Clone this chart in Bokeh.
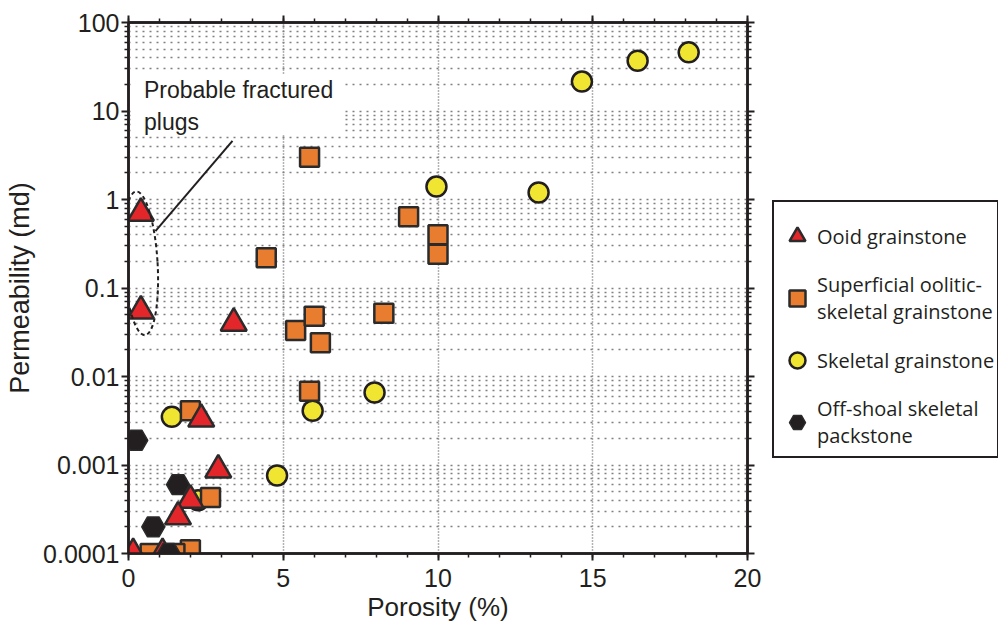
from bokeh.plotting import figure
from bokeh.layouts import row
from bokeh.models import (LogAxis, LinearAxis, FixedTicker, CustomJSTickFormatter,
                          Legend, LegendItem, Label, BoxAnnotation, Range1d)
from bokeh.embed import file_html
from bokeh.resources import INLINE

# ---------------- data (porosity %, permeability md) ----------------
ooid_x = [0.4, 0.4, 3.4, 2.35, 2.9, 2.0, 1.6, 0.15, 1.1]
ooid_y = [0.7, 0.055, 0.04, 0.0033, 0.00088, 0.0004, 0.00026, 0.0001, 0.0001]

sup_x = [5.85, 4.45, 9.05, 10.0, 10.0, 5.4, 6.0, 6.2, 8.25, 5.85, 2.0, 2.65, 2.0, 0.7, 1.5]
sup_y = [3.0, 0.22, 0.64, 0.4, 0.24, 0.033, 0.048, 0.024, 0.052, 0.0068, 0.0041,
         0.00043, 0.00011, 0.0001, 0.0001]

skel_x = [18.1, 16.45, 14.65, 9.95, 13.25, 7.95, 5.95, 4.8, 1.4, 2.25]
skel_y = [46, 37, 21.5, 1.4, 1.2, 0.0066, 0.0041, 0.00076, 0.0035, 0.0004]

off_x = [0.25, 1.6, 0.8, 1.3]
off_y = [0.0019, 0.0006, 0.0002, 0.0001]

labels = ["Ooid grainstone", "Superficial oolitic-\nskeletal grainstone",
          "Skeletal grainstone", "Off-shoal skeletal\npackstone"]

x_major = [0, 5, 10, 15, 20]
x_minor = list(range(0, 21))
y_major = [1e-4, 1e-3, 1e-2, 1e-1, 1, 10, 100]
y_minor = [m * 10.0 ** e for e in range(-4, 2) for m in range(2, 10)]

# annotation geometry (data coords)
note_text = "Probable fractured\nplugs"
note_pos = (0.5, 24)
note_box = dict(left=0.16, right=6.95, bottom=5.4, top=26)
leader_x = [0.87, 3.36]
leader_y = [0.44, 4.6]
ellipse_c = (0.39, 0.19)

INK = "#231f20"
AX_FONT = "Liberation Sans"
LEG_FONT = "Open Sans"

# marker styles shared by the plot and the legend
styles = {
    "ooid": dict(marker="triangle", size=26, fill_color="#e3262a", line_color="#2b2b2b", line_width=2.5),
    "sup": dict(marker="square", size=19, fill_color="#e87d2f", line_color="#2b2b2b", line_width=2.5),
    "skel": dict(marker="circle", size=20, fill_color="#f0e632", line_color=INK, line_width=2.5),
    "off": dict(marker="hex", size=23, fill_color=INK, line_color="#2b2b2b", line_width=1.5),
}

H = 625
p = figure(width=770, height=H, x_range=Range1d(0, 20), y_range=Range1d(1e-4, 100),
           y_axis_type="log", output_backend="svg", toolbar_location=None,
           min_border_left=128, min_border_right=23, min_border_top=22,
           min_border_bottom=72)
p.background_fill_color = "white"
p.border_fill_color = "white"
p.outline_line_color = INK
p.outline_line_width = 2.5

xt = FixedTicker(ticks=x_major, minor_ticks=x_minor)
yt = FixedTicker(ticks=y_major, minor_ticks=y_minor)
yfmt = CustomJSTickFormatter(code="return tick.toString();")

def style_axis(ax, labels_on=True):
    ax.axis_line_color = INK
    ax.axis_line_width = 2.5
    ax.major_tick_line_color = INK
    ax.major_tick_line_width = 2
    ax.minor_tick_line_color = INK
    ax.minor_tick_line_width = 1.5
    ax.major_tick_in = 0
    ax.major_tick_out = 7
    ax.minor_tick_in = 0
    ax.minor_tick_out = 4
    ax.major_label_text_font = AX_FONT
    ax.major_label_text_color = INK
    ax.axis_label_text_font = AX_FONT
    ax.axis_label_text_color = INK
    ax.axis_label_text_font_style = "normal"
    if labels_on:
        ax.major_label_text_font_size = "25px"
        ax.axis_label_text_font_size = "26px"
    else:
        ax.major_label_text_font_size = "0px"
        ax.major_label_text_alpha = 0
        ax.major_label_standoff = 0

xa = p.xaxis[0]
xa.ticker = xt
style_axis(xa)
xa.axis_label = "Porosity (%)"
xa.major_label_standoff = 8
xa.axis_label_standoff = 2

ya = p.yaxis[0]
ya.ticker = yt
ya.formatter = yfmt
style_axis(ya)
ya.axis_label = "Permeability (md)"
ya.axis_label_text_font_size = "27px"
ya.major_label_standoff = 2
ya.axis_label_standoff = 5

top_ax = LinearAxis(ticker=xt)
style_axis(top_ax, labels_on=False)
p.add_layout(top_ax, "above")
right_ax = LogAxis(ticker=yt, formatter=yfmt)
style_axis(right_ax, labels_on=False)
p.add_layout(right_ax, "right")

p.xgrid.ticker = FixedTicker(ticks=[5, 10, 15])
p.xgrid.grid_line_color = "#666666"
p.xgrid.grid_line_dash = "1 2"
p.xgrid.grid_line_width = 1.5
p.ygrid.grid_line_color = "#808080"
p.ygrid.grid_line_dash = "2 5"
p.ygrid.grid_line_width = 1.5
p.ygrid.minor_grid_line_color = "#808080"
p.ygrid.minor_grid_line_dash = "2 5"
p.ygrid.minor_grid_line_width = 1.5

# white box behind the note
p.add_layout(BoxAnnotation(fill_color="white", fill_alpha=1, line_color=None, **note_box))

# series (drawing order: circles, squares, triangles, hexagons)
p.scatter(skel_x, skel_y, **styles["skel"])
p.scatter(sup_x, sup_y, **styles["sup"])
p.scatter(ooid_x, ooid_y, **styles["ooid"])
p.scatter(off_x, off_y, **styles["off"])

# annotation: ellipse + leader + text
p.ellipse(x=[ellipse_c[0]], y=[ellipse_c[1]], width=34, height=144,
          width_units="screen", height_units="screen", angle=0.06,
          fill_color=None, line_color=INK, line_width=2, line_dash="4 3")
p.line(leader_x, leader_y, line_color=INK, line_width=2)
p.add_layout(Label(x=note_pos[0], y=note_pos[1], text=note_text, text_font=AX_FONT,
                   text_font_size="23px", text_color=INK, text_baseline="top",
                   text_line_height=1.2))

# ---------------- legend panel (separate figure to the right) ----------------
# legend-only renderers: same series, drawn outside this panel's visible ranges
lf = figure(width=228, height=H, x_range=Range1d(1000, 1001), y_range=Range1d(1000, 1001),
            output_backend="svg", toolbar_location=None,
            x_axis_location=None, y_axis_location=None,
            min_border_left=0, min_border_right=0, min_border_top=0, min_border_bottom=0)
lf.outline_line_color = None
lf.grid.visible = False
lf.background_fill_color = "white"
lf.border_fill_color = "white"
series_xy = {"ooid": (ooid_x, ooid_y), "sup": (sup_x, sup_y),
             "skel": (skel_x, skel_y), "off": (off_x, off_y)}
proxies = [lf.scatter(series_xy[k][0], series_xy[k][1], **styles[k])
           for k in ["ooid", "sup", "skel", "off"]]

legend = Legend(items=[LegendItem(label=lab, renderers=[r]) for lab, r in zip(labels, proxies)],
                location=(2, 95), orientation="vertical",
                padding=3, spacing=0, margin=0,
                glyph_width=40, glyph_height=62, label_height=62,
                label_standoff=0,
                label_text_font=LEG_FONT, label_text_font_size="20px",
                label_text_color=INK, label_text_line_height=1.2,
                border_line_color=INK, border_line_width=2.5, border_line_alpha=1,
                background_fill_color="white", background_fill_alpha=1)
lf.add_layout(legend, "center")

layout = row(p, lf, spacing=0)
open("out.html", "w").write(file_html(layout, INLINE))
